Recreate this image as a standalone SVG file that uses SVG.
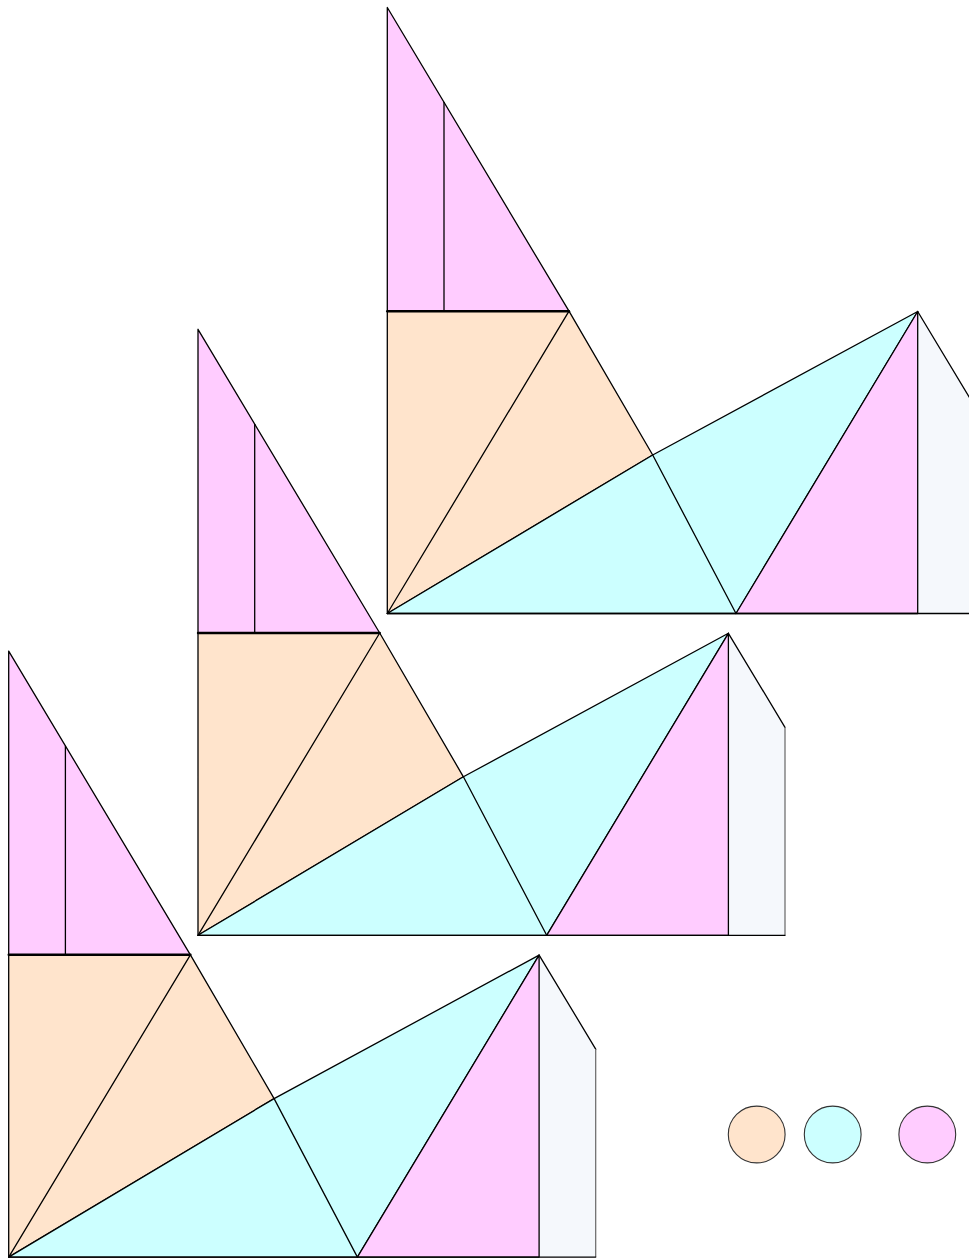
<svg xmlns="http://www.w3.org/2000/svg" width="969" height="1258" viewBox="0 0 969 1258">
<style>
.pk{fill:#ffccff;stroke:#000;stroke-width:1.3;stroke-linejoin:round}
.pe{fill:#ffe4cc;stroke:#000;stroke-width:1.3;stroke-linejoin:round}
.cy{fill:#ccffff;stroke:#000;stroke-width:1.3;stroke-linejoin:round}
.st{fill:#f5f8fc;stroke:none}
.ln{fill:none;stroke:#000;stroke-width:1.3;stroke-linecap:round}
.gl{fill:none;stroke:#666;stroke-width:1.2}
.th{fill:none;stroke:#000;stroke-width:2.4;stroke-linecap:round}
.dot{stroke:#333;stroke-width:1.1}
</style>
<defs>
<g id="fig">
<polygon class="st" points="530.4,-302 587,-208 587,0 530.4,0"/>
<polyline class="ln" points="530.4,-302 587,-208"/>
<line class="gl" x1="587" y1="-208" x2="587" y2="0"/>
<polygon class="pk" points="0,-606 0,-302.3 181.7,-302.3"/>
<line class="ln" x1="56.7" y1="-511" x2="56.7" y2="-302.3"/>
<polygon class="pe" points="0,-302.3 181.7,-302.3 265.4,-158.5 0,0"/>
<line class="ln" x1="0" y1="0" x2="181.7" y2="-302.3"/>
<polygon class="cy" points="0,0 265.4,-158.5 530.4,-302 348.7,0"/>
<line class="ln" x1="265.4" y1="-158.5" x2="348.7" y2="0"/>
<polygon class="pk" points="348.7,0 530.4,-302 530.4,0"/>
<line class="ln" x1="0" y1="0" x2="587" y2="0"/>
<line class="th" x1="0" y1="-302.3" x2="181.7" y2="-302.3"/>
</g>
</defs>
<g id="copy-top" transform="translate(387.3,613.5)"><use href="#fig"/></g>
<g id="copy-middle" transform="translate(198,935.3)"><use href="#fig"/></g>
<g id="copy-bottom" transform="translate(8.7,1257.1)"><use href="#fig"/></g>
<g id="legend">
<circle class="dot" cx="756.7" cy="1134.5" r="28.4" fill="#ffe4cc"/>
<circle class="dot" cx="832.7" cy="1134.5" r="28.4" fill="#ccffff"/>
<circle class="dot" cx="927.3" cy="1134.5" r="28.4" fill="#ffccff"/>
</g>
</svg>
